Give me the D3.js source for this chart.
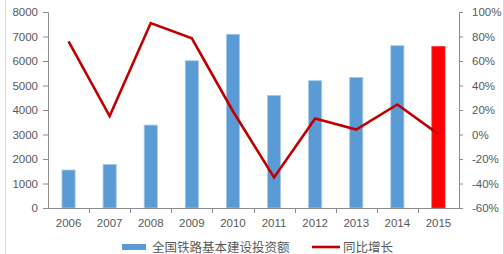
<!DOCTYPE html>
<html>
<head>
<meta charset="utf-8">
<script src="https://cdn.jsdelivr.net/npm/d3@7"></script>
<style>
  body { margin: 0; background: #fff; }
  svg { display: block; font-family: "Liberation Sans", Arial, sans-serif; }
</style>
</head>
<body>
<div id="chart"></div>
<script>
var years = ["2006", "2007", "2008", "2009", "2010", "2011", "2012", "2013", "2014", "2015"];
var invest = [1550, 1780, 3385, 6010, 7090, 4590, 5195, 5330, 6625, 6590];
var growth = [76, 15, 91, 78.5, 19, -35, 13, 4, 24.5, 0.3];
var leftTicks = [0, 1000, 2000, 3000, 4000, 5000, 6000, 7000, 8000];
var rightTicks = [-60, -40, -20, 0, 20, 40, 60, 80, 100];

var W = 504, H = 254;
var padL = 48, padR = 459, padT = 12, padB = 208;
var textCol = "#595959", axisCol = "#8c8c8c";

var svg = d3.select("#chart").append("svg")
	.attr("width", W)
	.attr("height", H);

// outer frame (left and right sides only visible)
svg.append("line").attr("x1", 5.5).attr("x2", 5.5).attr("y1", 0).attr("y2", H)
	.style("stroke", "#d9d9d9");
svg.append("line").attr("x1", 503.5).attr("x2", 503.5).attr("y1", 0).attr("y2", H)
	.style("stroke", "#d9d9d9");

var x = d3.scaleBand()
	.domain(years)
	.range([padL, padR])
	.paddingInner(0.68)
	.paddingOuter(0.34);

var y = d3.scaleLinear().domain([0, 8000]).range([padB, padT]);
var yR = d3.scaleLinear().domain([-60, 100]).range([padB, padT]);

// bars
svg.selectAll(".bar")
	.data(invest)
	.enter()
	.append("rect")
	.attr("x", function (d, i) { return x(years[i]); })
	.attr("y", function (d) { return y(d); })
	.attr("width", x.bandwidth())
	.attr("height", function (d) { return padB - y(d); })
	.style("fill", function (d, i) { return i == years.length - 1 ? "#ff0000" : "#5b9bd5"; })
	.style("stroke", function (d, i) { return i == years.length - 1 ? "#ff3030" : "#a9c9ea"; })
	.style("stroke-width", "0.8px");

// left axis
var gl = svg.append("g")
	.attr("transform", "translate(" + padL + ",0)")
	.call(d3.axisLeft(y).tickValues(leftTicks).tickSize(5).tickPadding(5).tickFormat(d3.format("d")));

// right axis
var gr = svg.append("g")
	.attr("transform", "translate(" + padR + ",0)")
	.call(d3.axisRight(yR).tickValues(rightTicks).tickSize(4).tickPadding(9).tickFormat(function (d) { return d + "%"; }));

[gl, gr].forEach(function (g) {
	g.select(".domain").style("stroke", axisCol);
	g.selectAll(".tick line").style("stroke", axisCol);
	g.selectAll(".tick text")
		.style("fill", textCol)
		.style("font-size", "11.5px")
		.style("font-family", "\"Liberation Sans\", Arial, sans-serif");
});

// category axis
svg.append("line")
	.attr("x1", padL).attr("x2", padR)
	.attr("y1", padB + 0.5).attr("y2", padB + 0.5)
	.style("stroke", axisCol);

svg.selectAll(".xtick")
	.data(years.slice(0, years.length - 1))
	.enter()
	.append("line")
	.attr("x1", function (d) { return Math.round(x(d) + x.bandwidth() / 2 + x.step() / 2) + 0.5; })
	.attr("x2", function (d) { return Math.round(x(d) + x.bandwidth() / 2 + x.step() / 2) + 0.5; })
	.attr("y1", padB)
	.attr("y2", padB + 5)
	.style("stroke", axisCol);

svg.selectAll(".xlabel")
	.data(years)
	.enter()
	.append("text")
	.attr("x", function (d) { return x(d) + x.bandwidth() / 2; })
	.attr("y", padB + 19)
	.attr("text-anchor", "middle")
	.style("fill", textCol)
	.style("font-size", "11.5px")
	.text(function (d) { return d; });

// growth line
var line = d3.line()
	.x(function (d, i) { return x(years[i]) + x.bandwidth() / 2; })
	.y(function (d) { return yR(d); });

svg.append("path")
	.datum(growth)
	.attr("d", line)
	.style("fill", "none")
	.style("stroke", "#c00000")
	.style("stroke-width", "2.6px")
	.style("stroke-linejoin", "miter");

// legend
var ly = 247;
svg.append("rect")
	.attr("x", 122).attr("y", ly - 3)
	.attr("width", 24).attr("height", 6)
	.style("fill", "#5b9bd5");
svg.append("text")
	.attr("x", 152).attr("y", ly + 4.5)
	.style("fill", textCol)
	.style("font-size", "12.5px")
	.style("font-family", "\"Noto Sans CJK SC\", sans-serif")
	.text("全国铁路基本建设投资额");

svg.append("line")
	.attr("x1", 312).attr("x2", 340)
	.attr("y1", ly).attr("y2", ly)
	.style("stroke", "#c00000")
	.style("stroke-width", "2.6px");
svg.append("text")
	.attr("x", 343).attr("y", ly + 4.5)
	.style("fill", textCol)
	.style("font-size", "12.5px")
	.style("font-family", "\"Noto Sans CJK SC\", sans-serif")
	.text("同比增长");
</script>
</body>
</html>
